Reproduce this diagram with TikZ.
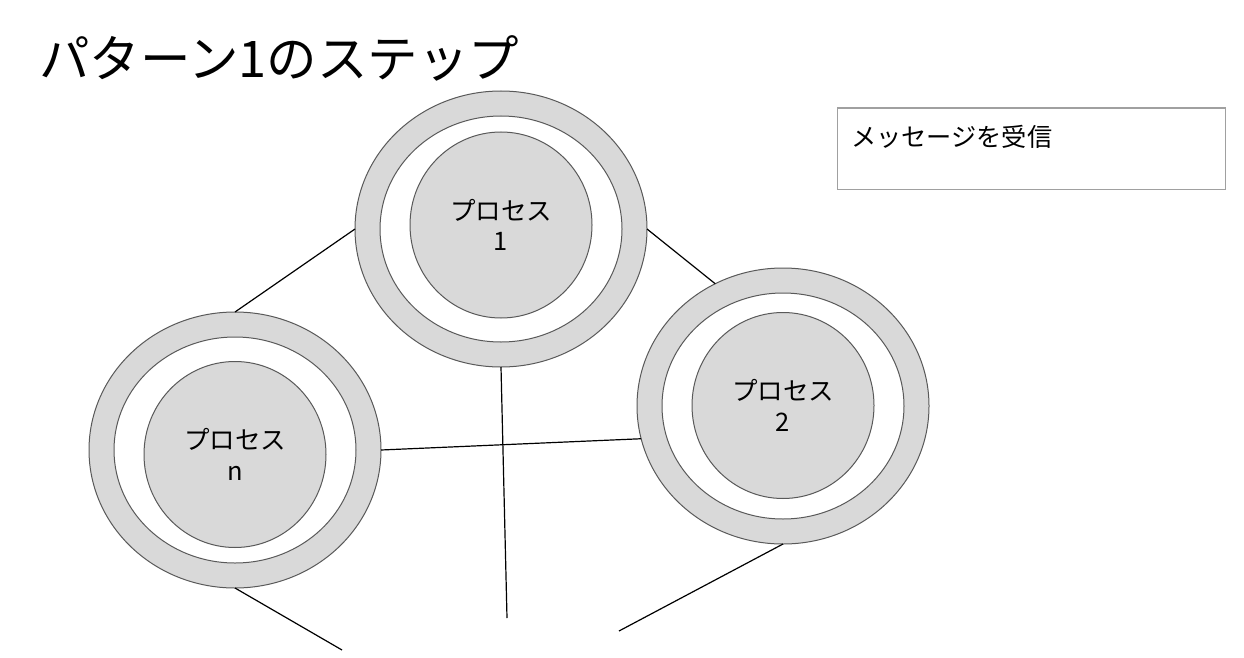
\documentclass[tikz,border=0pt]{standalone}
\usepackage{fontspec}
\setmainfont{Noto Sans CJK JP}
\usetikzlibrary{shapes.geometric}
\definecolor{ringfill}{HTML}{D9D9D9}
\definecolor{ringedge}{HTML}{595959}
\definecolor{boxedge}{HTML}{A0A0A0}
\begin{document}
\begin{tikzpicture}[x=1pt,y=-1pt,
  ringout/.style={ellipse, draw=ringedge, fill=ringfill, line width=1pt, minimum width=292pt, minimum height=276pt, inner sep=0pt, outer sep=0pt},
  ringmid/.style={ellipse, draw=ringedge, fill=white, line width=1pt, minimum width=242pt, minimum height=226pt, inner sep=0pt, outer sep=0pt},
  proc/.style={ellipse, draw=ringedge, fill=ringfill, line width=1pt, minimum width=182pt, minimum height=186pt, inner sep=0pt, outer sep=0pt, align=center, font=\fontsize{25.5}{30.5}\selectfont},
  conn/.style={draw=black, line width=1.2pt},
  infobox/.style={draw=boxedge, line width=1.1pt, fill=white, minimum width=388pt, minimum height=81pt, inner sep=0pt, anchor=north west},
  boxtext/.style={anchor=base west, inner sep=0pt, font=\fontsize{25.2}{29}\selectfont},
  titletext/.style={anchor=base west, inner sep=0pt, font=\fontsize{50.5}{58}\selectfont}
]
\fill[white] (0,0) rectangle (1244,658);
\useasboundingbox (0,0) rectangle (1244,658);

\node[titletext] (title) at (39,78) {パターン1のステップ};

\node[infobox] (box) at (837,107.5) {};
\node[boxtext] (boxlabel) at (851,146.5) {メッセージを受信};

% process 1
\node[ringout] (c1) at (501,229) {};
\node[ringmid] (c1m) at (501,229) {};
\node[proc] (p1) at (501,225) {プロセス\\1};

% process n
\node[ringout] (cn) at (235,450) {};
\node[ringmid] (cnm) at (235,450) {};
\node[proc] (pn) at (235,454.5) {プロセス\\n};

% process 2
\node[ringout] (c2) at (783,406) {};
\node[ringmid] (c2m) at (783,406) {};
\node[proc] (p2) at (783,405.5) {プロセス\\2};

\coordinate (e1) at (507,618);
\coordinate (e2) at (342,650);
\coordinate (e3) at (619,631);

\draw[conn] (c1.west) -- (cn.north);
\draw[conn] (c1.east) -- (c2.119);
\draw[conn] (cn.east) -- (c2.193.5);
\draw[conn] (c1.south) -- (e1);
\draw[conn] (cn.south) -- (e2);
\draw[conn] (c2.south) -- (e3);
\end{tikzpicture}
\end{document}
